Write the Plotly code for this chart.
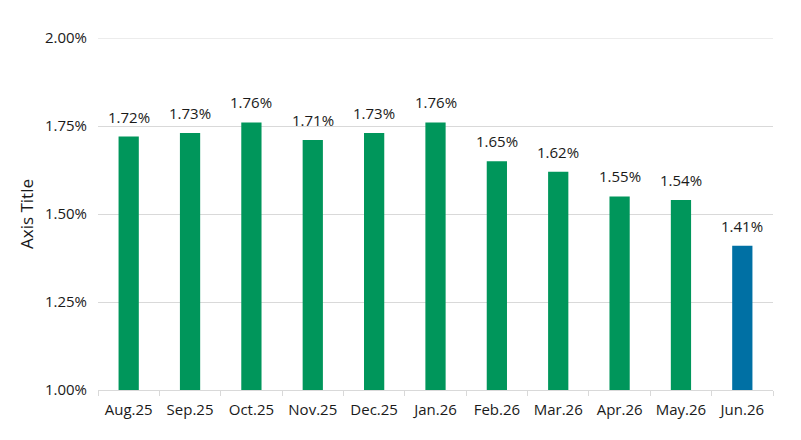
import plotly.graph_objects as go

categories = ["Aug.25", "Sep.25", "Oct.25", "Nov.25", "Dec.25", "Jan.26",
              "Feb.26", "Mar.26", "Apr.26", "May.26", "Jun.26"]
values = [1.72, 1.73, 1.76, 1.71, 1.73, 1.76, 1.65, 1.62, 1.55, 1.54, 1.41]
labels = [f"{v:.2f}%" for v in values]
y_ticks = [1.00, 1.25, 1.50, 1.75, 2.00]
y_tick_labels = ["1.00%", "1.25%", "1.50%", "1.75%", "2.00%"]

GREEN = "#00965B"
BLUE = "#0070A4"
colors = [GREEN] * (len(values) - 1) + [BLUE]

font_family = "'Open Sans', Lato, sans-serif"
TXT = "#1a1a1a"
GRID = "#d9d9d9"

fig = go.Figure(go.Bar(
    x=categories, y=values, base=0,
    marker=dict(color=colors, line=dict(width=0)),
    hoverinfo="x+y",
))

for c, v, t in zip(categories, values, labels):
    fig.add_annotation(x=c, y=v, text=t, showarrow=False, yanchor="bottom",
                       yshift=8, font=dict(size=15, color=TXT, family=font_family))

# top gridline (at the edge of the range)
fig.add_shape(type="line", xref="paper", x0=0, x1=1, yref="y",
              y0=y_ticks[-1], y1=y_ticks[-1], line=dict(color=GRID, width=1),
              layer="below")

fig.update_layout(
    width=801, height=440,
    margin=dict(l=98, r=28, t=38, b=50),
    paper_bgcolor="white", plot_bgcolor="white",
    bargap=0.67,
    showlegend=False,
    font=dict(family=font_family, size=15, color=TXT),
)
fig.update_xaxes(
    showgrid=False, showline=True, linecolor=GRID, linewidth=1,
    ticks="outside", tickson="boundaries", ticklen=5, tickcolor=GRID,
    tickfont=dict(size=15, color=TXT), ticklabelstandoff=6,
)
fig.update_yaxes(
    range=[1.0, 2.0], tickvals=y_ticks, ticktext=y_tick_labels,
    showgrid=True, gridcolor=GRID, gridwidth=1, zeroline=False,
    showline=False, ticks="", ticklabelstandoff=10,
    title=dict(text="Axis Title", font=dict(size=17, color=TXT), standoff=6),
    tickfont=dict(size=15, color=TXT),
)

fig.write_html("out.html")
